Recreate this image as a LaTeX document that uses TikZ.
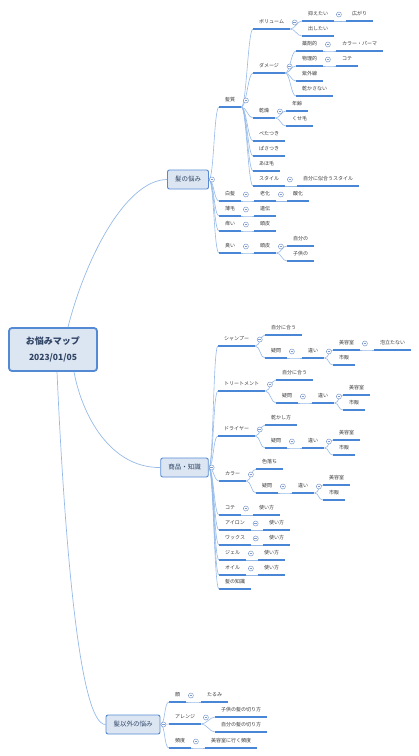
\documentclass[tikz,border=0pt]{standalone}
\usepackage{fontspec}
\setmainfont{Noto Sans CJK JP}
\usetikzlibrary{calc}
\definecolor{linkblue}{RGB}{150,186,232}
\definecolor{lineblue}{RGB}{74,134,214}
\definecolor{boxfill}{RGB}{220,230,243}
\definecolor{boxedge}{RGB}{84,138,212}
\definecolor{inktxt}{RGB}{55,55,55}
\definecolor{roottxt}{RGB}{48,68,100}
\definecolor{foldc}{RGB}{125,155,205}

\begin{document}
\begin{tikzpicture}[x=1pt, y=-1pt,
  rootbox/.style={rectangle, draw=boxedge, line width=1.8pt, fill=boxfill, rounded corners=3pt, minimum width=88pt, minimum height=43pt, align=center, text=roottxt, font=\fontsize{9}{16}\selectfont\bfseries},
  mainbox/.style={rectangle, draw=boxedge, line width=0.9pt, fill=boxfill, rounded corners=2pt, minimum height=19pt, inner xsep=7.5pt, text=roottxt, font=\fontsize{6.5}{7}\selectfont},
  uline/.style={draw=lineblue, line width=1.4pt},
  topic/.style={anchor=south west, inner xsep=6pt, inner ysep=4.5pt, text height=4.2pt, text depth=0.8pt, text=inktxt, font=\fontsize{5}{6}\selectfont, append after command={(\tikzlastnode.south west) edge[uline] (\tikzlastnode.south east)}},
  link/.style={draw=linkblue, line width=0.6pt, to path={.. controls +(5,0) and +(-5,0) .. (\tikztotarget)}},
  rootlink/.style={draw=linkblue, line width=0.7pt},
  fold/.style={circle, draw=foldc, fill=white, line width=0.5pt, inner sep=0pt, minimum size=5pt, path picture={\draw[foldc, line width=0.5pt] ([xshift=-1.4pt]path picture bounding box.center) -- ([xshift=1.4pt]path picture bounding box.center);}}
]
  \useasboundingbox (0,0) rectangle (419,756);

  % --- root and main topics ---
  \node[rootbox] (root) at (53,349.5) {お悩みマップ\\\fontsize{8.5}{16}\selectfont 2023/01/05};
  \node[mainbox] (worry) at (188,179.5) {髪の悩み};
  \node[mainbox] (goods) at (184.5,467.5) {商品・知識};
  \node[mainbox] (other) at (133,724.5) {髪以外の悩み};

  \draw[rootlink] ([xshift=15pt]root.north) .. controls (85,260) and (125,180) .. (worry.west);
  \draw[rootlink] ([xshift=21pt]root.south) .. controls (82,415) and (110,468) .. (goods.west);
  \draw[rootlink] ([xshift=4pt]root.south) .. controls (65,550) and (80,725) .. (other.west);

  % --- 1. hair worries ---
  \node[topic] (hq) at (219,107) {髪質};
  \node[topic] (vol) at (253,29) {ボリューム};
  \node[topic] (volDown) at (302,21) {抑えたい};
  \node[topic] (spread) at (346,21) {広がり};
  \node[topic] (volUp) at (302,36) {出したい};
  \node[topic] (dmg) at (253,73) {ダメージ};
  \node[topic] (chem) at (296,51) {薬剤的};
  \node[topic] (perm) at (336,51) {カラー・パーマ};
  \node[topic] (phys) at (296,66) {物理的};
  \node[topic] (kote0) at (336,66) {コテ};
  \node[topic] (uv) at (296,81) {紫外線};
  \node[topic] (nodry) at (296,96) {乾かさない};
  \node[topic] (dryness) at (253,118) {乾燥};
  \node[topic] (age) at (286,111) {年齢};
  \node[topic] (curl) at (286,126) {くせ毛};
  \node[topic] (flat) at (253,141) {ぺたつき};
  \node[topic] (frizz) at (253,156) {ぱさつき};
  \node[topic] (ahoge) at (253,171) {あほ毛};
  \node[topic] (style) at (253,186) {スタイル};
  \node[topic] (mystyle) at (297,186) {自分に似合うスタイル};
  \node[topic] (gray) at (219,201) {白髪};
  \node[topic] (aging) at (254,201) {老化};
  \node[topic] (oxid) at (287,201) {酸化};
  \node[topic] (thin) at (219,216) {薄毛};
  \node[topic] (gene) at (254,216) {遺伝};
  \node[topic] (itch) at (219,231) {痒い};
  \node[topic] (scalpA) at (254,231) {頭皮};
  \node[topic] (smell) at (219,253) {臭い};
  \node[topic] (scalpB) at (254,253) {頭皮};
  \node[topic] (mine) at (287,246) {自分の};
  \node[topic] (kids) at (287,261) {子供の};

  \draw[link] (worry.east) to (hq.south west);
  \draw[link] (worry.east) to (gray.south west);
  \draw[link] (worry.east) to (thin.south west);
  \draw[link] (worry.east) to (itch.south west);
  \draw[link] (worry.east) to (smell.south west);
  \draw[link] (hq.south east) to (vol.south west);
  \draw[link] (hq.south east) to (dmg.south west);
  \draw[link] (hq.south east) to (dryness.south west);
  \draw[link] (hq.south east) to (flat.south west);
  \draw[link] (hq.south east) to (frizz.south west);
  \draw[link] (hq.south east) to (ahoge.south west);
  \draw[link] (hq.south east) to (style.south west);
  \draw[link] (vol.south east) to (volDown.south west);
  \draw[link] (vol.south east) to (volUp.south west);
  \draw[link] (volDown.south east) to (spread.south west);
  \draw[link] (dmg.south east) to (chem.south west);
  \draw[link] (dmg.south east) to (phys.south west);
  \draw[link] (dmg.south east) to (uv.south west);
  \draw[link] (dmg.south east) to (nodry.south west);
  \draw[link] (chem.south east) to (perm.south west);
  \draw[link] (phys.south east) to (kote0.south west);
  \draw[link] (dryness.south east) to (age.south west);
  \draw[link] (dryness.south east) to (curl.south west);
  \draw[link] (style.south east) to (mystyle.south west);
  \draw[link] (gray.south east) to (aging.south west);
  \draw[link] (aging.south east) to (oxid.south west);
  \draw[link] (thin.south east) to (gene.south west);
  \draw[link] (itch.south east) to (scalpA.south west);
  \draw[link] (smell.south east) to (scalpB.south west);
  \draw[link] (scalpB.south east) to (mine.south west);
  \draw[link] (scalpB.south east) to (kids.south west);

  % --- 2. products and knowledge ---
  \node[topic] (sham) at (218,346) {シャンプー};
  \node[topic] (shamFit) at (265,335) {自分に合う};
  \node[topic] (shamQ) at (265,358) {疑問};
  \node[topic] (shamDiff) at (302,358) {違い};
  \node[topic] (shamSalon) at (333,350) {美容室};
  \node[topic] (foam) at (374,350) {泡立たない};
  \node[topic] (shamShop) at (333,365) {市販};
  \node[topic] (treat) at (218,391) {トリートメント};
  \node[topic] (treatFit) at (276,380) {自分に合う};
  \node[topic] (treatQ) at (276,403) {疑問};
  \node[topic] (treatDiff) at (312,403) {違い};
  \node[topic] (treatSalon) at (343,395) {美容室};
  \node[topic] (treatShop) at (343,410) {市販};
  \node[topic] (dryer) at (218,436) {ドライヤー};
  \node[topic] (dryHow) at (265,425) {乾かし方};
  \node[topic] (dryQ) at (265,448) {疑問};
  \node[topic] (dryDiff) at (302,448) {違い};
  \node[topic] (drySalon) at (333,440) {美容室};
  \node[topic] (dryShop) at (333,455) {市販};
  \node[topic] (color) at (219,481) {カラー};
  \node[topic] (fade) at (256,469) {色落ち};
  \node[topic] (colQ) at (256,493) {疑問};
  \node[topic] (colDiff) at (292,493) {違い};
  \node[topic] (colSalon) at (323,485) {美容室};
  \node[topic] (colShop) at (323,500) {市販};
  \node[topic] (kote) at (219,515) {コテ};
  \node[topic] (koteUse) at (253,515) {使い方};
  \node[topic] (iron) at (219,530) {アイロン};
  \node[topic] (ironUse) at (263,530) {使い方};
  \node[topic] (wax) at (219,545) {ワックス};
  \node[topic] (waxUse) at (263,545) {使い方};
  \node[topic] (gel) at (219,560) {ジェル};
  \node[topic] (gelUse) at (258,560) {使い方};
  \node[topic] (oil) at (219,575) {オイル};
  \node[topic] (oilUse) at (258,575) {使い方};
  \node[topic] (know) at (219,589) {髪の知識};

  \draw[link] (goods.east) to (sham.south west);
  \draw[link] (goods.east) to (treat.south west);
  \draw[link] (goods.east) to (dryer.south west);
  \draw[link] (goods.east) to (color.south west);
  \draw[link] (goods.east) to (kote.south west);
  \draw[link] (goods.east) to (iron.south west);
  \draw[link] (goods.east) to (wax.south west);
  \draw[link] (goods.east) to (gel.south west);
  \draw[link] (goods.east) to (oil.south west);
  \draw[link] (goods.east) to (know.south west);
  \draw[link] (sham.south east) to (shamFit.south west);
  \draw[link] (sham.south east) to (shamQ.south west);
  \draw[link] (shamQ.south east) to (shamDiff.south west);
  \draw[link] (shamDiff.south east) to (shamSalon.south west);
  \draw[link] (shamDiff.south east) to (shamShop.south west);
  \draw[link] (shamSalon.south east) to (foam.south west);
  \draw[link] (treat.south east) to (treatFit.south west);
  \draw[link] (treat.south east) to (treatQ.south west);
  \draw[link] (treatQ.south east) to (treatDiff.south west);
  \draw[link] (treatDiff.south east) to (treatSalon.south west);
  \draw[link] (treatDiff.south east) to (treatShop.south west);
  \draw[link] (dryer.south east) to (dryHow.south west);
  \draw[link] (dryer.south east) to (dryQ.south west);
  \draw[link] (dryQ.south east) to (dryDiff.south west);
  \draw[link] (dryDiff.south east) to (drySalon.south west);
  \draw[link] (dryDiff.south east) to (dryShop.south west);
  \draw[link] (color.south east) to (fade.south west);
  \draw[link] (color.south east) to (colQ.south west);
  \draw[link] (colQ.south east) to (colDiff.south west);
  \draw[link] (colDiff.south east) to (colSalon.south west);
  \draw[link] (colDiff.south east) to (colShop.south west);
  \draw[link] (kote.south east) to (koteUse.south west);
  \draw[link] (iron.south east) to (ironUse.south west);
  \draw[link] (wax.south east) to (waxUse.south west);
  \draw[link] (gel.south east) to (gelUse.south west);
  \draw[link] (oil.south east) to (oilUse.south west);

  % --- 3. other worries ---
  \node[topic] (face) at (169,702) {顔};
  \node[topic] (sag) at (201,702) {たるみ};
  \node[topic] (arrange) at (169,724) {アレンジ};
  \node[topic] (kidCut) at (215,717) {子供の髪の切り方};
  \node[topic] (myCut) at (215,732) {自分の髪の切り方};
  \node[topic] (freq) at (169,748) {頻度};
  \node[topic] (freqSalon) at (205,748) {美容室に行く頻度};

  \draw[link] (other.east) to (face.south west);
  \draw[link] (other.east) to (arrange.south west);
  \draw[link] (other.east) to (freq.south west);
  \draw[link] (face.south east) to (sag.south west);
  \draw[link] (arrange.south east) to (kidCut.south west);
  \draw[link] (arrange.south east) to (myCut.south west);
  \draw[link] (freq.south east) to (freqSalon.south west);

  % collapse markers
  \node[fold] (fWorry) at ([xshift=3pt]worry.east) {};
  \node[fold] (fGoods) at ([xshift=3pt]goods.east) {};
  \node[fold] (fOther) at ([xshift=3pt]other.east) {};
  \node[fold] (fHq) at ([shift={(4.5,-6.5)}]hq.south east) {};
  \node[fold] (fVol) at ([shift={(4.5,-6.5)}]vol.south east) {};
  \node[fold] (fVolDown) at ([shift={(4.5,-6.5)}]volDown.south east) {};
  \node[fold] (fDmg) at ([shift={(4.5,-6.5)}]dmg.south east) {};
  \node[fold] (fChem) at ([shift={(4.5,-6.5)}]chem.south east) {};
  \node[fold] (fPhys) at ([shift={(4.5,-6.5)}]phys.south east) {};
  \node[fold] (fDryness) at ([shift={(4.5,-6.5)}]dryness.south east) {};
  \node[fold] (fStyle) at ([shift={(4.5,-6.5)}]style.south east) {};
  \node[fold] (fGray) at ([shift={(4.5,-6.5)}]gray.south east) {};
  \node[fold] (fAging) at ([shift={(4.5,-6.5)}]aging.south east) {};
  \node[fold] (fThin) at ([shift={(4.5,-6.5)}]thin.south east) {};
  \node[fold] (fItch) at ([shift={(4.5,-6.5)}]itch.south east) {};
  \node[fold] (fSmell) at ([shift={(4.5,-6.5)}]smell.south east) {};
  \node[fold] (fScalpB) at ([shift={(4.5,-6.5)}]scalpB.south east) {};
  \node[fold] (fSham) at ([shift={(4.5,-6.5)}]sham.south east) {};
  \node[fold] (fShamQ) at ([shift={(4.5,-6.5)}]shamQ.south east) {};
  \node[fold] (fShamDiff) at ([shift={(4.5,-6.5)}]shamDiff.south east) {};
  \node[fold] (fShamSalon) at ([shift={(4.5,-6.5)}]shamSalon.south east) {};
  \node[fold] (fTreat) at ([shift={(4.5,-6.5)}]treat.south east) {};
  \node[fold] (fTreatQ) at ([shift={(4.5,-6.5)}]treatQ.south east) {};
  \node[fold] (fTreatDiff) at ([shift={(4.5,-6.5)}]treatDiff.south east) {};
  \node[fold] (fDryer) at ([shift={(4.5,-6.5)}]dryer.south east) {};
  \node[fold] (fDryQ) at ([shift={(4.5,-6.5)}]dryQ.south east) {};
  \node[fold] (fDryDiff) at ([shift={(4.5,-6.5)}]dryDiff.south east) {};
  \node[fold] (fColor) at ([shift={(4.5,-6.5)}]color.south east) {};
  \node[fold] (fColQ) at ([shift={(4.5,-6.5)}]colQ.south east) {};
  \node[fold] (fColDiff) at ([shift={(4.5,-6.5)}]colDiff.south east) {};
  \node[fold] (fKote) at ([shift={(4.5,-6.5)}]kote.south east) {};
  \node[fold] (fIron) at ([shift={(4.5,-6.5)}]iron.south east) {};
  \node[fold] (fWax) at ([shift={(4.5,-6.5)}]wax.south east) {};
  \node[fold] (fGel) at ([shift={(4.5,-6.5)}]gel.south east) {};
  \node[fold] (fOil) at ([shift={(4.5,-6.5)}]oil.south east) {};
  \node[fold] (fFace) at ([shift={(4.5,-6.5)}]face.south east) {};
  \node[fold] (fArrange) at ([shift={(4.5,-6.5)}]arrange.south east) {};
  \node[fold] (fFreq) at ([shift={(4.5,-6.5)}]freq.south east) {};

\end{tikzpicture}
\end{document}
